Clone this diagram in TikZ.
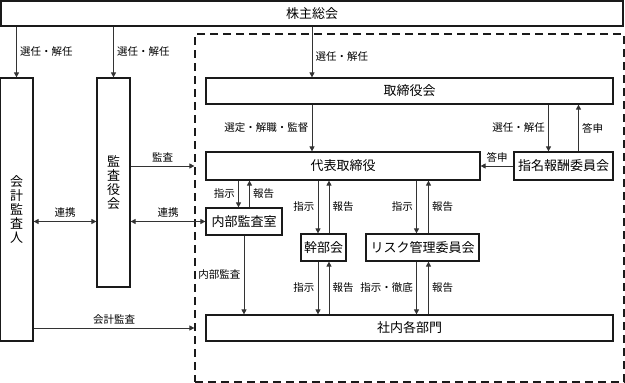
\documentclass[tikz,border=0pt]{standalone}
\usepackage{fontspec}
\setmainfont{Noto Sans CJK JP}
\usetikzlibrary{arrows.meta, positioning}
\definecolor{boxcolor}{HTML}{1A1A1A}
\definecolor{arrcolor}{HTML}{333333}

\begin{document}
\begin{tikzpicture}[
    x=1pt, y=-1pt,
    every node/.style={font=\fontsize{10.5}{12}\selectfont, align=center},
    box/.style={draw=boxcolor, line width=1.2pt, inner sep=0pt,
                font=\fontsize{13}{14}\selectfont},
    groupframe/.style={draw=boxcolor, line width=1.2pt,
                       dash pattern=on 8pt off 5pt,
                       minimum width=429pt, minimum height=348pt},
    arr/.style={-{Triangle[length=5pt, width=5pt]}, draw=arrcolor,
                line width=0.8pt},
    darr/.style={{Triangle[length=5pt, width=5pt]}-{Triangle[length=5pt, width=5pt]},
                 draw=arrcolor, line width=0.8pt}
]
    \useasboundingbox (0,0) rectangle (625,383);

    % Top: shareholders
    \node[box, minimum width=622pt, minimum height=25pt] (soukai) at (312, 13.5) {株主総会};

    % Left column
    \node[box, minimum width=33pt, minimum height=263pt] (kansanin) at (16.5, 209.5)
        {会\\計\\監\\査\\人};
    \node[box, minimum width=33pt, minimum height=209pt] (kansayaku) at (113.5, 182.5)
        {監\\査\\役\\会};

    % Company (dashed frame)
    \node[groupframe] (grp) at (409.5, 208) {};

    \node[box, minimum width=407pt, minimum height=26pt] (torishimari) at (409.5, 91) {取締役会};
    \node[box, minimum width=274pt, minimum height=28pt] (daihyo) at (343, 166) {代表取締役};
    \node[box, minimum width=99pt, minimum height=28pt] (shimei) at (563.5, 166) {指名報酬委員会};
    \node[box, minimum width=76pt, minimum height=27pt] (naibu) at (244, 221.5) {内部監査室};
    \node[box, minimum width=45pt, minimum height=27pt] (kanbu) at (323.5, 247.5) {幹部会};
    \node[box, minimum width=113pt, minimum height=27pt] (risk) at (422.5, 247.5) {リスク管理委員会};
    \node[box, minimum width=407pt, minimum height=26pt] (shanai) at (409.5, 328) {社内各部門};

    \coordinate (col) at (312, 0);

    % Arrows — from 株主総会
    \draw[arr] (soukai.south -| kansanin) -- node[right] {選任・解任} (kansanin.north);
    \draw[arr] (soukai.south -| kansayaku) -- node[right] {選任・解任} (kansayaku.north);
    \draw[arr] (soukai.south -| col) -- node[right, pos=0.58] {選任・解任} (torishimari.north -| col);

    % Arrows — 取締役会 and 指名報酬委員会
    \draw[arr] (torishimari.south -| col) -- node[left] {選定・解職・監督} (daihyo.north -| col);
    \draw[arr] ([xshift=-15pt]shimei.north |- torishimari.south) -- node[left] {選任・解任}
        ([xshift=-15pt]shimei.north);
    \draw[arr] ([xshift=15pt]shimei.north) -- node[right] {答申}
        ([xshift=15pt]shimei.north |- torishimari.south);
    \draw[arr] (shimei.west) -- node[above] {答申} (daihyo.east);

    % Arrows — 監査役会 / 会計監査人
    \draw[arr] (kansayaku.east |- daihyo) -- node[above] {監査} (grp.west |- daihyo);
    \draw[darr] (kansanin.east |- naibu) -- node[above] {連携} (kansayaku.west |- naibu);
    \draw[darr] (kansayaku.east |- naibu) -- node[above] {連携} (naibu.west);
    \draw[arr] (kansanin.east |- shanai) -- node[above] {会計監査} (grp.west |- shanai);

    % Arrows — 代表取締役 down
    \draw[arr] ([xshift=-5.5pt]naibu.north |- daihyo.south) -- node[left] {指示}
        ([xshift=-5.5pt]naibu.north);
    \draw[arr] ([xshift=5.5pt]naibu.north) -- node[right] {報告}
        ([xshift=5.5pt]naibu.north |- daihyo.south);
    \draw[arr] ([xshift=-5.5pt]kanbu.north |- daihyo.south) -- node[left] {指示}
        ([xshift=-5.5pt]kanbu.north);
    \draw[arr] ([xshift=5.5pt]kanbu.north) -- node[right] {報告}
        ([xshift=5.5pt]kanbu.north |- daihyo.south);
    \draw[arr] ([xshift=-6pt]risk.north |- daihyo.south) -- node[left] {指示}
        ([xshift=-6pt]risk.north);
    \draw[arr] ([xshift=6pt]risk.north) -- node[right] {報告}
        ([xshift=6pt]risk.north |- daihyo.south);

    % Arrows — to 社内各部門
    \draw[arr] (naibu.south) -- node[left] {内部監査} (naibu.south |- shanai.north);
    \draw[arr] ([xshift=-5.5pt]kanbu.south) -- node[left] {指示}
        ([xshift=-5.5pt]kanbu.south |- shanai.north);
    \draw[arr] ([xshift=5.5pt]kanbu.south |- shanai.north) -- node[right] {報告}
        ([xshift=5.5pt]kanbu.south);
    \draw[arr] ([xshift=-6pt]risk.south) -- node[left] {指示・徹底}
        ([xshift=-6pt]risk.south |- shanai.north);
    \draw[arr] ([xshift=6pt]risk.south |- shanai.north) -- node[right] {報告}
        ([xshift=6pt]risk.south);
\end{tikzpicture}
\end{document}
